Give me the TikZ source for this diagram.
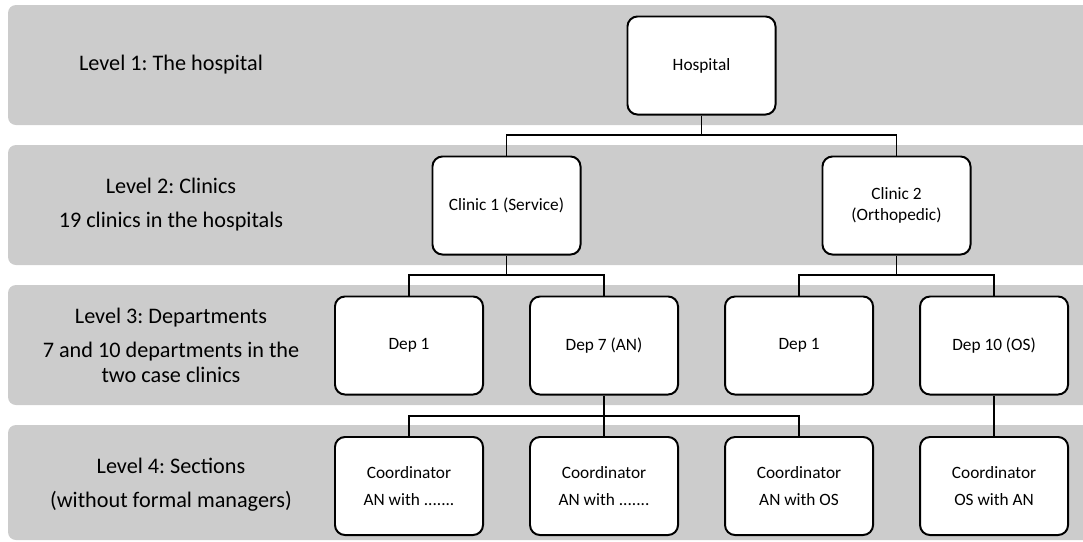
\documentclass[tikz,border=0pt]{standalone}
\usepackage{fontspec}
\setmainfont{Carlito}
\usetikzlibrary{positioning}
\definecolor{bandgray}{RGB}{204,204,204}
\frenchspacing

\begin{document}
\begin{tikzpicture}[x=0.025cm, y=-0.025cm,
  orgbox/.style={draw=black, line width=1.4pt, fill=white, rounded corners=0.25cm,
    minimum width=3.7cm, minimum height=2.45cm, align=center, inner sep=2pt,
    font=\fontsize{12.3}{14.6}\selectfont},
  link/.style={line width=1.4pt},
  levellabel/.style={align=center, font=\fontsize{15.8}{17.8}\selectfont}]
  \useasboundingbox (0,0) rectangle (1083,541);
  \clip (0,0) rectangle (1083,541);
  %--- Bands
    \fill[bandgray, rounded corners=0.2cm] (8, 5) rectangle (1100, 125);
    \fill[bandgray, rounded corners=0.2cm] (8, 145) rectangle (1100, 265);
    \fill[bandgray, rounded corners=0.2cm] (8, 285) rectangle (1100, 405);
    \fill[bandgray, rounded corners=0.2cm] (8, 425) rectangle (1100, 540);
  %--- Level labels
    \node[levellabel] (lev1) at (171, 65) {Level 1: The hospital};
    \node[levellabel] (lev2) at (171, 205) {Level 2: Clinics\\[6.4pt]19 clinics in the hospitals};
    \node[levellabel] (lev3) at (171, 345) {Level 3: Departments\\[6.4pt]7 and 10 departments in the\\two case clinics};
    \node[levellabel] (lev4) at (171, 485) {Level 4: Sections\\[6.4pt](without formal managers)};
  %--- Hospital
    \node[orgbox] (hosp) at (701.5, 65.5) {Hospital};
  %--- Clinics
    \node[orgbox] (cl1) at (506.5, 205.5) {Clinic 1 (Service)};
    \node[orgbox] (cl2) at (896.5, 205.5) {Clinic 2\\(Orthopedic)};
  %--- Departments
    \node[orgbox] (dep1) at (409, 345.5) {Dep 1};
    \node[orgbox, right=1.125cm of dep1] (dep7) {Dep 7 (AN)};
    \node[orgbox, right=1.125cm of dep7] (dep1b) {Dep 1};
    \node[orgbox, right=1.125cm of dep1b] (dep10) {Dep 10 (OS)};
  %--- Sections
    \node[orgbox] (sec1) at (409, 486) {Coordinator\\[4.4pt]AN with .......};
    \node[orgbox, right=1.125cm of sec1] (sec2) {Coordinator\\[4.4pt]AN with .......};
    \node[orgbox, right=1.125cm of sec2] (sec3) {Coordinator\\[4.4pt]AN with OS};
    \node[orgbox, right=1.125cm of sec3] (sec4) {Coordinator\\[4.4pt]OS with AN};
  %--- Connectors
    \coordinate (bus1) at (701.5, 135);
    \coordinate (bus2) at (506.5, 275);
    \coordinate (bus3) at (896.5, 275);
    \coordinate (bus4) at (604, 416);
    \draw[link] (hosp.south) -- (bus1);
    \draw[link] (cl1.north) |- (bus1) -| (cl2.north);
    \draw[link] (cl1.south) -- (bus2);
    \draw[link] (dep1.north) |- (bus2) -| (dep7.north);
    \draw[link] (cl2.south) -- (bus3);
    \draw[link] (dep1b.north) |- (bus3) -| (dep10.north);
    \draw[link] (dep7.south) -- (sec2.north);
    \draw[link] (sec1.north) |- (bus4) -| (sec3.north);
    \draw[link] (dep10.south) -- (sec4.north);
\end{tikzpicture}
\end{document}
